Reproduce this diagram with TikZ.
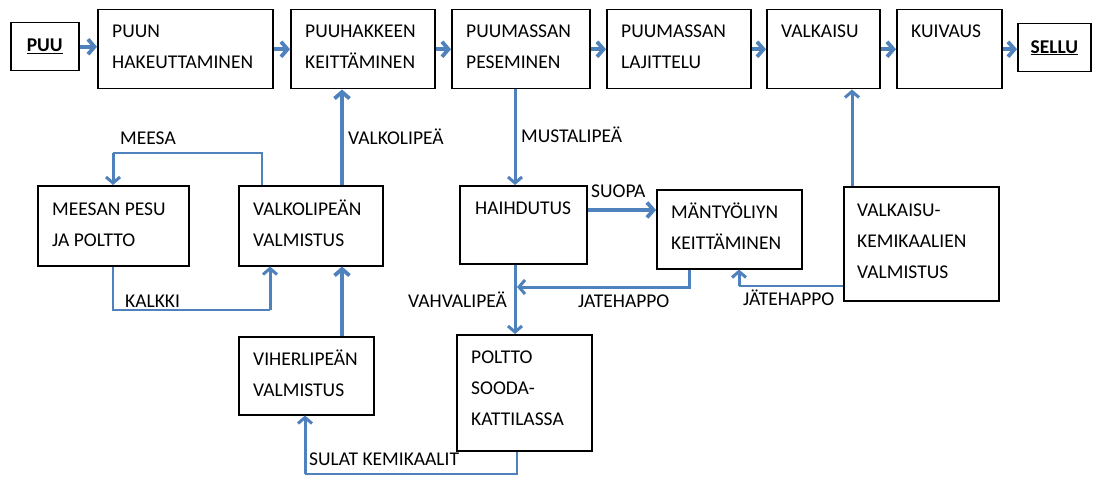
\documentclass[tikz,border=0pt]{standalone}
\usepackage{fontspec}
\setmainfont{Carlito}
\usetikzlibrary{arrows.meta,calc}
\definecolor{flow}{HTML}{4F81BD}
\newcommand\procbox[5]{\node[box, anchor=north west, minimum width={(#4)-(#2)}, minimum height={(#5)-(#3)}] (#1) at (#2,#3) {};}
\newcommand\ml[1]{\begin{tabular}[t]{@{}l@{}}#1\end{tabular}}
\begin{document}
\begin{tikzpicture}[x=1pt,y=-1pt,
  box/.style={draw=black, line width=1.5pt, inner sep=0pt, fill=white},
  txt/.style={anchor=base west, inner sep=0pt, font=\fontsize{19.5}{31}\selectfont, text=black},
  flowthick/.style={draw=flow, line width=3.8pt, -{Straight Barb[length=6.5pt,width=15pt]}},
  flowmid/.style={draw=flow, line width=3pt, -{Straight Barb[length=6pt,width=14pt]}},
  flowthin/.style={draw=flow, line width=1.7pt},
]
\useasboundingbox (0,0) rectangle (1099,476);
\fill[white] (0,0) rectangle (1099,476);

% top row
\procbox{puu}{10}{22}{78}{70}
\procbox{hak}{97}{9}{272}{88}
\procbox{keit}{290}{9}{434}{88}
\procbox{pes}{451}{9}{589}{88}
\procbox{laj}{606}{9}{750}{88}
\procbox{valk}{766}{9}{879}{88}
\procbox{kuiv}{896}{9}{1001}{88}
\procbox{sellu}{1017}{23}{1090}{71}
% lower boxes
\procbox{meesan}{37}{185}{188}{265}
\procbox{valkol}{238}{185}{382}{265}
\procbox{haih}{459}{185}{586}{263}
\procbox{mant}{656}{189}{801}{268}
\procbox{vkem}{843}{186}{998}{300}
\procbox{viher}{238}{336}{373}{414}
\procbox{poltto}{456}{334}{591}{450}

% box texts
\node[txt, anchor=center, font=\fontsize{19.5}{31}\selectfont\bfseries] (puuT) at (puu.center) {\underline{PUU}};
\node[txt, anchor=center, font=\fontsize{19.5}{31}\selectfont\bfseries] (selluT) at (sellu.center) {\underline{SELLU}};
\node[txt] (hakT) at ($(hak.north west)+(15,29)$) {\ml{PUUN\\HAKEUTTAMINEN}};
\node[txt] (keitT) at ($(keit.north west)+(15,29)$) {\ml{PUUHAKKEEN\\KEITTÄMINEN}};
\node[txt] (pesT) at ($(pes.north west)+(15,29)$) {\ml{PUUMASSAN\\PESEMINEN}};
\node[txt] (lajT) at ($(laj.north west)+(15,29)$) {\ml{PUUMASSAN\\LAJITTELU}};
\node[txt] (valkT) at ($(valk.north west)+(15,29)$) {VALKAISU};
\node[txt] (kuivT) at ($(kuiv.north west)+(15,29)$) {KUIVAUS};
\node[txt] (meesanT) at ($(meesan.north west)+(15,30)$) {\ml{MEESAN PESU\\JA POLTTO}};
\node[txt] (valkolT) at ($(valkol.north west)+(15,30)$) {\ml{VALKOLIPEÄN\\VALMISTUS}};
\node[txt] (haihT) at ($(haih.north west)+(16,29)$) {HAIHDUTUS};
\node[txt] (mantT) at ($(mant.north west)+(15,29)$) {\ml{MÄNTYÖLIYN\\KEITTÄMINEN}};
\node[txt] (vkemT) at ($(vkem.north west)+(14,30)$) {\ml{VALKAISU-\\KEMIKAALIEN\\VALMISTUS}};
\node[txt] (viherT) at ($(viher.north west)+(15,29)$) {\ml{VIHERLIPEÄN\\VALMISTUS}};
\node[txt] (poltoT) at ($(poltto.north west)+(15,29)$) {\ml{POLTTO\\SOODA-\\KATTILASSA}};

% helper coordinates
\coordinate (xV) at (342,0);
\coordinate (xMe) at (262,0);
\coordinate (xMl) at (113,0);
\coordinate (yMe) at (0,153);
\coordinate (xKa) at (270,0);
\coordinate (yKa) at (0,310);
\coordinate (xMu) at (515,0);
\coordinate (ySu) at (0,210);
\coordinate (xJ1) at (689,0);
\coordinate (yJ) at (0,287);
\coordinate (xJ2) at (739,0);
\coordinate (yJ2) at (0,286);
\coordinate (xVk) at (852,0);
\coordinate (xSo) at (517,0);
\coordinate (ySo) at (0,474);
\coordinate (xSu) at (305,0);

% top row flow
\draw[flowthick] (puu.east) -- (puu.east -| hak.west);
\draw[flowthick] (hak.east) -- (keit.west);
\draw[flowthick] (keit.east) -- (pes.west);
\draw[flowthick] (pes.east) -- (laj.west);
\draw[flowthick] (laj.east) -- (valk.west);
\draw[flowthick] (valk.east) -- (kuiv.west);
\draw[flowthick] (kuiv.east) -- (kuiv.east -| sellu.west);

% VALKOLIPEA
\draw[flowthick] (valkol.north -| xV) -- (keit.south -| xV);
% MEESA
\draw[flowthin] (valkol.north -| xMe) -- (xMe |- yMe) -- (xMl |- yMe);
\draw[flowmid] (xMl |- yMe) -- (meesan.north -| xMl);
% KALKKI
\draw[flowthin] (meesan.south -| xMl) -- (xMl |- yKa) -- (xKa |- yKa);
\draw[flowmid] (xKa |- yKa) -- (valkol.south -| xKa);
% viher -> valkol
\draw[flowthick] (viher.north -| xV) -- (valkol.south -| xV);
% MUSTALIPEA
\draw[flowmid] (pes.south -| xMu) -- (haih.north -| xMu);
% SUOPA
\draw[flowthick] (haih.east |- ySu) -- (mant.west |- ySu);
% JATEHAPPO 1
\draw[flowmid] (mant.south -| xJ1) -- (xJ1 |- yJ) -- (xSo |- yJ);
% VAHVALIPEA
\draw[flowmid] (haih.south -| xMu) -- (poltto.north -| xMu);
% JATEHAPPO 2
\draw[flowthin] (vkem.west |- yJ2) -- (xJ2 |- yJ2);
\draw[flowmid] (xJ2 |- yJ2) -- (mant.south -| xJ2);
% VKEM -> VALKAISU
\draw[flowmid] (vkem.north -| xVk) -- (valk.south -| xVk);
% SULAT KEMIKAALIT
\draw[draw=flow, line width=2.3pt] (poltto.south -| xSo) -- (xSo |- ySo) -- (xSu |- ySo);
\draw[flowmid] (xSu |- ySo) -- (viher.south -| xSu);

% labels
\node[txt] (lMeesa) at (120,144) {MEESA};
\node[txt] (lValkoli) at (348,144) {VALKOLIPEÄ};
\node[txt] (lMusta) at (521,142) {MUSTALIPEÄ};
\node[txt] (lSuopa) at (591,197) {SUOPA};
\node[txt] (lJate1) at (578,307) {JATEHAPPO};
\node[txt] (lJate2) at (743,305) {JÄTEHAPPO};
\node[txt] (lVahva) at (408,307) {VAHVALIPEÄ};
\node[txt] (lKalkki) at (125,307) {KALKKI};
\node[txt] (lSulat) at (309,465) {SULAT KEMIKAALIT};
\end{tikzpicture}
\end{document}
